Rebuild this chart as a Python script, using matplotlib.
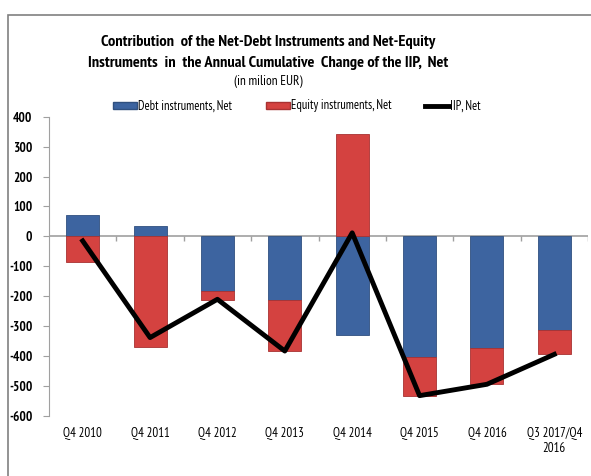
import matplotlib
matplotlib.use("Agg")
import matplotlib.pyplot as plt
import numpy as np
from matplotlib.patches import Rectangle, Patch
from matplotlib.lines import Line2D

categories = ["Q4 2010", "Q4 2011", "Q4 2012", "Q4 2013", "Q4 2014",
              "Q4 2015", "Q4 2016", "Q3 2017/Q4\n2016"]
debt = [70, 35, -182, -213, -330, -404, -374, -313]
equity = [-86, -369, -29, -169, 342, -128, -120, -81]
iip = [-15, -338, -210, -383, 12, -532, -494, -394]
yticks = [400, 300, 200, 100, 0, -100, -200, -300, -400, -500, -600]

FONT = ["PT Sans Narrow", "Liberation Sans", "DejaVu Sans"]
plt.rcParams['font.family'] = FONT

W, H = 591, 476
fig = plt.figure(figsize=(W / 100, H / 100), dpi=100)
ax = fig.add_axes([49 / W, 1 - 416 / H, 539 / W, (416 - 116.7) / H])

x = np.arange(len(categories))
blue = "#3D64A0"
red = "#D44240"
debt = np.array(debt, float)
equity = np.array(equity, float)
eq_bottom = np.where((equity < 0) & (debt < 0), debt, 0.0)
eq_bottom = np.where((equity > 0) & (debt > 0), debt, eq_bottom)

ax.bar(x, debt, width=0.49, color=blue, edgecolor="#30507F", linewidth=0.6, zorder=2)
ax.bar(x, equity, width=0.49, bottom=eq_bottom, color=red, edgecolor="#A83232", linewidth=0.6, zorder=2)
ax.plot(x, iip, color="black", linewidth=3.5, zorder=3)

ax.set_xlim(-0.5, len(categories) - 0.5)
ax.set_ylim(-600, 400)
ax.set_yticks(yticks)
ax.set_yticklabels([str(v) for v in yticks], fontsize=9.5, fontweight="bold")
ax.set_xticks(x)
ax.set_xticklabels(categories, fontsize=9.3)
ax.tick_params(axis="x", length=0, pad=8)
ax.tick_params(axis="y", length=4, color="#A0A0A0", pad=8)

for s in ["top", "right", "bottom"]:
    ax.spines[s].set_visible(False)
ax.spines["left"].set_color("#A0A0A0")
ax.axhline(0, color="#A0A0A0", linewidth=1.2, zorder=1)
ax.vlines(np.arange(len(categories)) + 0.5, -15, 0, color="#A0A0A0", linewidth=1)

fig.patches.append(Rectangle((8 / W, -0.1), 1.2, 1 - 15 / H + 0.1, transform=fig.transFigure,
                             fill=False, edgecolor="#808080", linewidth=1.2))

cx = 268 / W
fig.text(cx, 1 - 42 / H, "Contribution  of the Net-Debt Instruments and Net-Equity",
         ha="center", va="center", fontsize=11.8, fontweight="bold")
fig.text(cx, 1 - 63 / H, "Instruments  in  the Annual Cumulative  Change of the IIP,  Net",
         ha="center", va="center", fontsize=11.8, fontweight="bold")
fig.text(cx, 1 - 82 / H, "(in milion EUR)", ha="center", va="center", fontsize=9.5)

handles = [Patch(facecolor=blue, edgecolor="#30507F"),
           Patch(facecolor=red, edgecolor="#A83232"),
           Line2D([0], [0], color="black", linewidth=3.5)]
labels = ["Debt instruments, Net", "Equity instruments, Net", "IIP, Net"]
fig.legend(handles, labels, loc="center left", bbox_to_anchor=(113 / W, 1 - 106 / H), ncol=3,
           frameon=False, fontsize=9, handlelength=1.9, handleheight=0.5,
           handletextpad=0.1, columnspacing=2.7, borderpad=0, borderaxespad=0)

fig.savefig("out.png", dpi=100)
